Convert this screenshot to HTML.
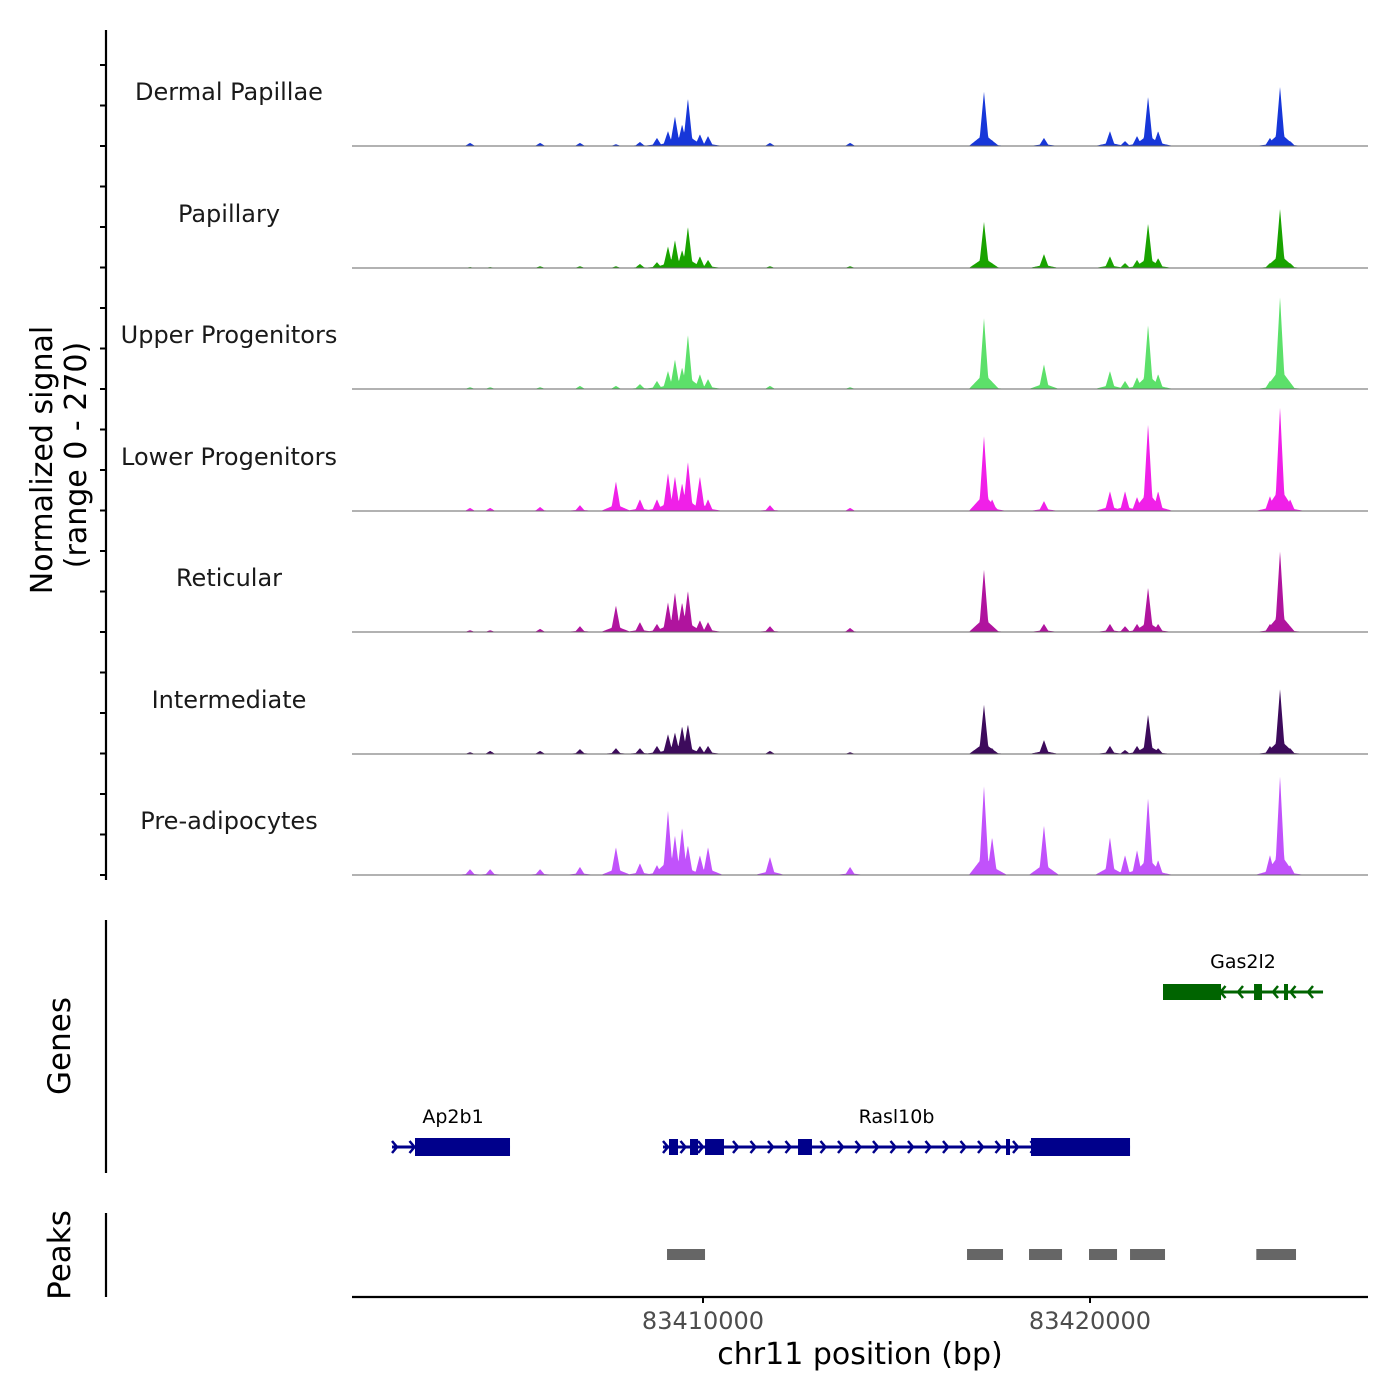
<!DOCTYPE html>
<html><head><meta charset="utf-8"><style>
body{margin:0;background:#fff}
svg{display:block;font-family:"DejaVu Sans","Liberation Sans",sans-serif}
</style></head><body>
<svg id="chart" width="1400" height="1400" viewBox="0 0 1400 1400" xmlns="http://www.w3.org/2000/svg"></svg>
<script>
const xStart = 83400930, xEnd = 83427183;
const trackNames = ["Dermal Papillae","Papillary","Upper Progenitors","Lower Progenitors","Reticular","Intermediate","Pre-adipocytes"];
const trackColors = ["#1737d9","#19a300","#5ce06a","#f020e8","#b0149e","#3d0b5c","#c152fb"];
const peakPos = [83403980,83404500,83405790,83406820,83407750,83408370,83408810,83409095,83409275,83409460,83409610,83409920,83410130,83411730,83413800,83417260,83417470,83418810,83420515,83420905,83421215,83421500,83421760,83424650,83424910,83425170];
const sigDermal = [7,0,7,7,4,9,18,33,66,48,106,26,22,7,7,121,13,18,33,11,22,110,33,18,132,11];
const sigPapillary = [2,2,4,4,4,9,13,48,62,40,92,26,18,4,4,103,11,31,26,11,18,99,22,11,132,11];
const sigUpper = [4,4,4,7,7,11,18,40,66,48,121,33,22,7,4,158,13,55,40,18,26,143,33,18,205,13];
const sigLower = [7,7,9,13,66,26,26,84,77,62,110,77,26,13,7,167,26,22,44,44,31,194,44,33,231,26];
const sigReticular = [4,4,7,13,59,22,18,66,88,66,92,26,22,13,9,139,13,18,18,13,18,99,18,18,180,13];
const sigInter = [4,7,7,11,13,13,18,44,48,62,66,18,18,7,4,110,13,31,18,9,18,88,13,18,145,13];
const sigPre = [13,13,13,18,62,26,22,143,88,106,66,44,62,40,18,198,84,110,84,44,55,172,33,44,220,22];
const signals = [sigDermal,sigPapillary,sigUpper,sigLower,sigReticular,sigInter,sigPre];
const xTicks = [83410000,83420000];
const xTickLabels = ["83410000","83420000"];
const peakStarts = [83409070,83416822,83418424,83419974,83421034,83424297];
const peakEnds = [83410052,83417752,83419277,83420698,83421938,83425323];
const geneNames = ["Ap2b1","Rasl10b","Gas2l2"];
const geneStarts = [83401964,83408966,83421886];
const geneEnds = [83405013,83421034,83426021];
const geneStrand = [1,1,-1];
const geneRow = [1,1,0];
const exonGene = [0,1,1,1,1,1,1,2,2,2];
const exonStarts = [83402558,83409121,83409664,83410052,83412455,83417829,83418475,83421886,83424238,83425013];
const exonEnds = [83405013,83409354,83409871,83410542,83412816,83417933,83421034,83423385,83424444,83425116];

const NS="http://www.w3.org/2000/svg", svg=document.getElementById('chart');
const X0=352,X1=1368;
const xs=v=>X0+(v-xStart)/(xEnd-xStart)*(X1-X0);
const baselines=[146,268,389,511,632,754,875];
const ys=v=>v*121.5/270;
function el(t,a,p){const e=document.createElementNS(NS,t);for(const k in a)e.setAttribute(k,a[k]);(p||svg).appendChild(e);return e;}

const ax=el('line',{x1:106,y1:30,x2:106,y2:880,stroke:'#000','stroke-width':2.2});


for(let y=146-81;y<=880;y+=40.5){const t=el('line',{x1:100,y1:y,x2:106,y2:y,stroke:'#000','stroke-width':2});

}
const yt=el('text',{x:0,y:0,transform:'translate(52,460) rotate(-90)','text-anchor':'middle','font-size':30,fill:'#000'});
yt.textContent='Normalized signal';


const yt2=el('text',{x:0,y:0,transform:'translate(86,455) rotate(-90)','text-anchor':'middle','font-size':30,fill:'#000'});
yt2.textContent='(range 0 - 270)';



const HW=130;
signals.forEach((sig,ti)=>{
  const g=el('g',{});
  
  
  const b=baselines[ti];
  let d='M'+X0+','+b;
  for(let px=X0;px<=X1;px+=0.5){
    const bp=xStart+(px-X0)/(X1-X0)*(xEnd-xStart);
    let v=0;
    peakPos.forEach((p,i)=>{const dd=Math.abs(bp-p);if(dd<HW){const c=sig[i]*(1-dd/HW);if(c>v)v=c;}
      const w=HW*3;if(dd<w){const c2=sig[i]*0.22*(1-dd/w);if(c2>v)v=c2;}});
    d+=' L'+px+','+(b-ys(v)).toFixed(2);
  }
  d+=' L'+X1+','+b+' Z';
  const a=el('path',{d:d,fill:trackColors[ti]},g);
  
  
  const bl=el('line',{x1:X0,y1:b,x2:X1,y2:b,stroke:'#666','stroke-width':1},g);
  
  
  const lb=el('text',{x:229,y:b-46,'text-anchor':'middle','font-size':24,fill:'#1a1a1a'},g);
  lb.textContent=trackNames[ti];
  
  
});

const ga=el('line',{x1:106,y1:920,x2:106,y2:1173,stroke:'#000','stroke-width':2.2});


const gt=el('text',{x:0,y:0,transform:'translate(70,1046) rotate(-90)','text-anchor':'middle','font-size':31});
gt.textContent='Genes';


const rowY=[992,1147];
geneNames.forEach((n,gi)=>{
  const col=geneStrand[gi]>0?'#00008b':'#006400';
  const y=rowY[geneRow[gi]];
  const g=el('g',{});
  
  
  const x1=xs(geneStarts[gi]),x2=xs(geneEnds[gi]);
  el('line',{x1:x1,y1:y,x2:x2,y2:y,stroke:col,'stroke-width':3},g);
  for(let x=x1+5;x<x2-3;x+=17.5){
    const s=geneStrand[gi]*5;
    el('polyline',{points:(x-s)+','+(y-6)+' '+x+','+y+' '+(x-s)+','+(y+6),fill:'none',stroke:col,'stroke-width':2.5},g);
  }
  exonGene.forEach((eg,ei)=>{if(eg!==gi)return;
    const h=(exonEnds[ei]-exonStarts[ei])>2000?18:16;
    const r=el('rect',{x:xs(exonStarts[ei]),y:y-h/2,width:Math.max(3,xs(exonEnds[ei])-xs(exonStarts[ei])),height:h,fill:col},g);
    
    
  });
  const lbl=el('text',{x:(x1+x2)/2+(gi===0?2:0),y:y-24,'text-anchor':'middle','font-size':19,fill:'#000'},g);
  lbl.textContent=n;
  
  
});

const pa=el('line',{x1:106,y1:1213,x2:106,y2:1297,stroke:'#000','stroke-width':2.2});


const pt=el('text',{x:0,y:0,transform:'translate(70,1255) rotate(-90)','text-anchor':'middle','font-size':31});
pt.textContent='Peaks';


peakStarts.forEach((s,i)=>{
  const r=el('rect',{x:xs(s),y:1249,width:xs(peakEnds[i])-xs(s),height:11,fill:'#666'});
  
  
});

const xa=el('line',{x1:X0,y1:1297,x2:X1,y2:1297,stroke:'#000','stroke-width':2.2});


xTicks.forEach((t,i)=>{
  const tk=el('line',{x1:xs(t),y1:1297,x2:xs(t),y2:1303,stroke:'#000','stroke-width':2});
  
  
  const tl=el('text',{x:xs(t),y:1329,'text-anchor':'middle','font-size':24,fill:'#4d4d4d'});
  tl.textContent=xTickLabels[i];
  
  
});
const xt=el('text',{x:860,y:1364,'text-anchor':'middle','font-size':30,fill:'#000'});
xt.textContent='chr11 position (bp)';


</script>
</body></html>
